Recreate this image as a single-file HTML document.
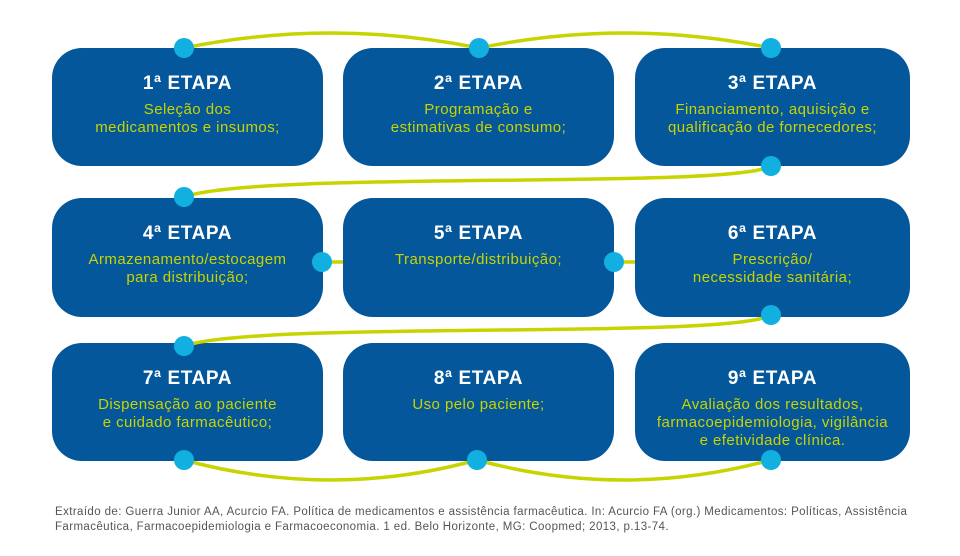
<!DOCTYPE html>
<html><head><meta charset="utf-8"><style>
body{margin:0;background:#fff;width:960px;height:556px;overflow:hidden;position:relative;font-family:"Liberation Sans",sans-serif}
.b{position:absolute;background:#04579a;border-radius:30px;text-align:center;color:#c8d400;font-size:15px;line-height:18px;letter-spacing:0.45px}
.b h{display:block;color:#fff;font-weight:bold;font-size:19px;margin-top:27px;margin-bottom:8px;letter-spacing:0.6px}
svg{position:absolute;left:0;top:0}
.f{position:absolute;left:55px;top:505px;font-size:11.5px;line-height:15px;color:#555;letter-spacing:0.4px;white-space:nowrap}
</style></head><body>
<div class="b" style="left:52px;top:48px;width:271px;height:118px"><h>1ª ETAPA</h>Seleção dos<br>medicamentos e insumos;</div>
<div class="b" style="left:343px;top:48px;width:271px;height:118px"><h>2ª ETAPA</h>Programação e<br>estimativas de consumo;</div>
<div class="b" style="left:635px;top:48px;width:275px;height:118px"><h>3ª ETAPA</h>Financiamento, aquisição e<br>qualificação de fornecedores;</div>
<div class="b" style="left:52px;top:198px;width:271px;height:119px"><h>4ª ETAPA</h>Armazenamento/estocagem<br>para distribuição;</div>
<div class="b" style="left:343px;top:198px;width:271px;height:119px"><h>5ª ETAPA</h>Transporte/distribuição;</div>
<div class="b" style="left:635px;top:198px;width:275px;height:119px"><h>6ª ETAPA</h>Prescrição/<br>necessidade sanitária;</div>
<div class="b" style="left:52px;top:343px;width:271px;height:118px"><h>7ª ETAPA</h>Dispensação ao paciente<br>e cuidado farmacêutico;</div>
<div class="b" style="left:343px;top:343px;width:271px;height:118px"><h>8ª ETAPA</h>Uso pelo paciente;</div>
<div class="b" style="left:635px;top:343px;width:275px;height:118px"><h>9ª ETAPA</h>Avaliação dos resultados,<br>farmacoepidemiologia, vigilância<br>e efetividade clínica.</div>
<svg width="960" height="556">
<g fill="none" stroke="#c8d400" stroke-width="3.5">
<path d="M184,48 Q331,18 479,48 Q625,18 771,48"/>
<path d="M771,166 C730,190 260,170 184,197"/>
<path d="M322,262 L343,262 M614,262 L635,262"/>
<path d="M771,315 C730,340 260,320 184,346"/>
<path d="M184,460 Q331,500 477,460 Q624,500 771,460"/>
</g>
<g fill="#12b0e0">
<circle cx="184" cy="48" r="10"/><circle cx="479" cy="48" r="10"/><circle cx="771" cy="48" r="10"/>
<circle cx="771" cy="166" r="10"/><circle cx="184" cy="197" r="10"/>
<circle cx="322" cy="262" r="10"/><circle cx="614" cy="262" r="10"/>
<circle cx="771" cy="315" r="10"/><circle cx="184" cy="346" r="10"/>
<circle cx="184" cy="460" r="10"/><circle cx="477" cy="460" r="10"/><circle cx="771" cy="460" r="10"/>
</g>
</svg>
<div class="f">Extraído de: Guerra Junior AA, Acurcio FA. Política de medicamentos e assistência farmacêutica. In: Acurcio FA (org.) Medicamentos: Políticas, Assistência<br>Farmacêutica, Farmacoepidemiologia e Farmacoeconomia. 1 ed. Belo Horizonte, MG: Coopmed; 2013, p.13-74.</div>
</body></html>
